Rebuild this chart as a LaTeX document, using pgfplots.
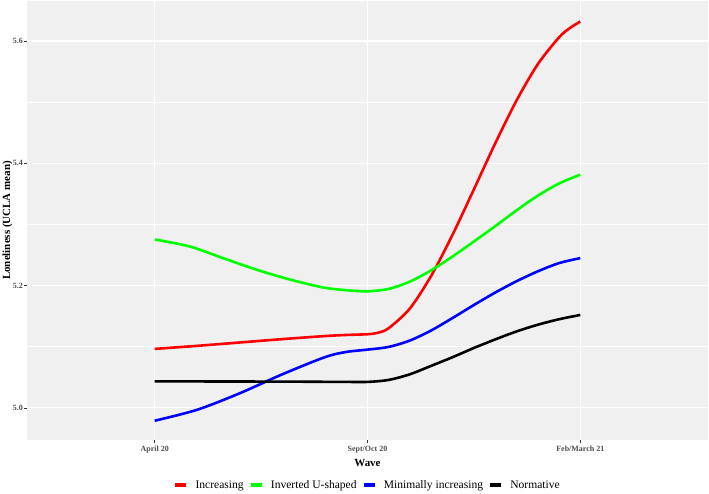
\documentclass[border=0pt]{standalone}
\usepackage{fontspec}
\setmainfont{Liberation Serif}
\usepackage{pgfplots}
\pgfplotsset{compat=1.18}
\definecolor{bgc}{HTML}{F0F0F0}
\definecolor{tickgrey}{HTML}{4D4D4D}
\definecolor{tickline}{HTML}{333333}
\definecolor{cred}{HTML}{FF0000}
\definecolor{cgreen}{HTML}{00FF00}
\definecolor{cblue}{HTML}{0000FF}
\begin{document}
\begin{tikzpicture}
\begin{axis}[
  scale only axis, width=681bp, height=439bp,
  xmin=0.4, xmax=3.6, ymin=4.9475, ymax=5.6655,
  axis background/.style={fill=bgc},
  axis line style={draw=none},
  xtick={1,2,3}, xticklabels={April 20, Sept/Oct 20, Feb/March 21},
  ytick={5.0,5.2,5.4,5.6}, yticklabels={5.0,5.2,5.4,5.6},
  minor ytick={5.1,5.3,5.5},
  grid=both,
  major grid style={white, line width=1.1bp},
  minor grid style={white, line width=0.55bp},
  tick align=outside, tickpos=left,
  major tick length=2.5bp, minor tick length=0pt,
  tick style={tickline, line width=0.5bp},
  /pgf/number format/assume math mode=true,
  ticklabel style={font=\fontsize{8}{9}\selectfont\bfseries, text=tickgrey},
  yticklabel style={xshift=1.8bp},
  every axis y label/.style={at={(axis description cs:0,0.5)}, xshift=-19.5bp, rotate=90, anchor=center, font=\fontsize{11}{13}\selectfont\bfseries},
  every axis x label/.style={at={(axis description cs:0.5,0)}, anchor=center, yshift=-23bp, font=\fontsize{11}{13}\selectfont\bfseries},
  xlabel={Wave}, ylabel={Loneliness (UCLA mean)},
  legend columns=4,
  legend style={at={(axis description cs:0.5,0)}, anchor=center, yshift=-45bp, draw=none, fill=none,
    font=\fontsize{11.6}{14}\selectfont, inner sep=0pt,
    /tikz/every even column/.append style={column sep=3bp},
    /tikz/every odd column/.append style={column sep=5.5bp}},
  legend image code/.code={\draw[#1, line width=3.8bp] (0bp,0bp) -- (11bp,0bp);},
  every axis plot/.append style={line width=2.6bp, smooth},
]
\addplot[cred] coordinates {
(1.0,5.0965) (1.2,5.1015) (1.4,5.107) (1.6,5.1125) (1.8,5.1175) (1.9,5.1193) (2.0,5.1205)
(2.05,5.123) (2.1,5.1305) (2.2,5.163) (2.3,5.2165) (2.4,5.2835) (2.5,5.3575)
(2.6,5.4325) (2.7,5.5025) (2.8,5.562) (2.9,5.606) (2.95,5.621) (3.0,5.632)};
\addlegendentry{Increasing}
\addplot[cgreen] coordinates {
(1.0,5.2755) (1.165,5.264) (1.321,5.245) (1.479,5.226) (1.635,5.210) (1.791,5.197)
(1.9,5.1925) (2.0,5.1907) (2.1,5.1947) (2.2,5.2067) (2.3,5.2252) (2.4,5.2477)
(2.5,5.2722) (2.6,5.2972) (2.7,5.323) (2.8,5.347) (2.9,5.367) (3.0,5.3815)};
\addlegendentry{Inverted U-shaped}
\addplot[cblue] coordinates {
(1.0,4.979) (1.2,4.997) (1.4,5.024) (1.6,5.055) (1.8,5.083) (1.9,5.0915) (2.0,5.0953)
(2.1,5.0998) (2.2,5.1103) (2.3,5.1268) (2.4,5.1471) (2.5,5.1683) (2.6,5.1886)
(2.7,5.2071) (2.8,5.2233) (2.9,5.2368) (3.0,5.245)};
\addlegendentry{Minimally increasing}
\addplot[black] coordinates {
(1.0,5.0435) (1.3,5.0432) (1.6,5.043) (1.9,5.0425) (2.0,5.0425) (2.1,5.0458)
(2.2,5.0551) (2.3,5.0689) (2.4,5.083) (2.5,5.098) (2.6,5.112) (2.7,5.125)
(2.8,5.136) (2.9,5.145) (3.0,5.152)};
\addlegendentry{Normative}
\end{axis}
\pgfresetboundingbox
\useasboundingbox (-27bp,-54bp) rectangle (682bp,440bp);
\end{tikzpicture}
\end{document}
